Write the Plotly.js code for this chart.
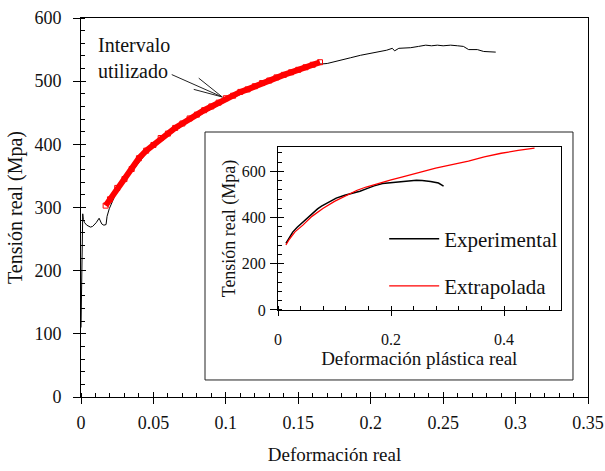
<!DOCTYPE html>
<html>
<head>
<meta charset="utf-8">
<script src="https://cdn.plot.ly/plotly-3.0.1.min.js"></script>
<style>html,body{margin:0;padding:0;background:#fff;}#chart{width:605px;height:471px;}</style>
</head>
<body>
<div id="chart"></div>
<script>
// Main chart: experimental curve (true strain vs true stress)
var mainStrain = [0, 0.0004, 0.0008, 0.0012, 0.0016, 0.0025, 0.004, 0.0065, 0.008, 0.0105, 0.0125, 0.0143, 0.0158, 0.0173, 0.018, 0.0195,
  0.025, 0.035, 0.045, 0.055, 0.065, 0.075, 0.085, 0.095, 0.105, 0.115, 0.125, 0.135, 0.145, 0.155, 0.165,
  0.170, 0.178, 0.186, 0.193, 0.200, 0.207, 0.211, 0.2149, 0.2165, 0.2194, 0.2276, 0.233, 0.238, 0.242, 0.246, 0.250, 0.2552, 0.260, 0.264, 0.2676, 0.2736, 0.278, 0.2863];
var mainStress = [110, 200, 285, 290, 281, 276, 272, 269, 270, 276, 283, 274, 272, 273, 286, 298,
  327, 357, 386, 406, 422, 437, 450, 462, 474, 484, 494, 503, 511, 519, 527,
  528, 533, 537, 541, 544, 547, 549, 552, 548, 552, 553, 555, 557, 556, 557, 556, 557, 556, 555, 550, 550, 547, 546];

// Interval used for the fit (red band)
var usedStrain = [0.017, 0.020, 0.025, 0.030, 0.035, 0.040, 0.045, 0.050, 0.055, 0.060, 0.065, 0.070, 0.075, 0.080, 0.085, 0.090, 0.095, 0.100,
  0.105, 0.110, 0.115, 0.120, 0.125, 0.130, 0.135, 0.140, 0.145, 0.150, 0.155, 0.160, 0.165];
var usedStress = [303, 313, 331, 345, 361, 378, 390, 399, 410, 417, 426, 433, 441, 447, 454, 460, 466, 473,
  477, 483, 487, 492, 497, 501, 506, 510, 514, 518, 522, 526, 530];

// Inset: true plastic strain vs true stress
var expPlastic = [0.014, 0.018, 0.022, 0.026, 0.034, 0.042, 0.05, 0.06, 0.07, 0.077, 0.09, 0.103, 0.118, 0.132, 0.145, 0.156, 0.17, 0.185, 0.2, 0.215, 0.232, 0.245, 0.255, 0.27, 0.284, 0.293];
var expStress = [288, 305, 322, 337, 358, 376, 395, 417, 437, 449, 467, 484, 496, 505, 514, 524, 537, 547, 551, 556, 560, 561, 560, 556, 549, 536];
var extPlastic = [0.014, 0.02, 0.03, 0.044, 0.06, 0.08, 0.10, 0.12, 0.14, 0.156, 0.18, 0.20, 0.219, 0.25, 0.279, 0.31, 0.337, 0.365, 0.395, 0.425, 0.454];
var extStress = [281, 306, 338, 367, 405, 440, 470, 495, 518, 532, 550, 563, 575, 595, 614, 630, 644, 662, 678, 690, 700];

var mainXTicks = [0, 0.05, 0.1, 0.15, 0.2, 0.25, 0.3, 0.35];
var mainXLabels = ['0', '0.05', '0.1', '0.15', '0.2', '0.25', '0.3', '0.35'];
var mainYTicks = [0, 100, 200, 300, 400, 500, 600];
var insetXTicks = [0, 0.2, 0.4];
var insetYTicks = [0, 200, 400, 600];

var FONT = 'Liberation Serif';
var INK = '#111';

var traces = [
  {x: mainStrain, y: mainStress, mode: 'lines', line: {color: '#000', width: 1}, showlegend: false, hoverinfo: 'skip'},
  {x: usedStrain, y: usedStress, mode: 'lines+markers', line: {color: '#ff0000', width: 6},
   marker: {symbol: 'square-open', size: 5, color: '#ff0000', line: {width: 1, color: '#ff2020'}}, showlegend: false},
  {x: [null], y: [null], xaxis: 'x3', yaxis: 'y', showlegend: false},
  {x: [null], y: [null], xaxis: 'x', yaxis: 'y3', showlegend: false},
  {x: expPlastic, y: expStress, xaxis: 'x2', yaxis: 'y2', mode: 'lines', name: 'Experimental',
   line: {color: '#000', width: 1.5}, legendgroup: 'a'},
  {x: extPlastic, y: extStress, xaxis: 'x2', yaxis: 'y2', mode: 'lines', name: 'Extrapolada',
   line: {color: '#ff0000', width: 1.3}, legendgroup: 'b'},
  {x: [null], y: [null], xaxis: 'x4', yaxis: 'y2', showlegend: false},
  {x: [null], y: [null], xaxis: 'x2', yaxis: 'y4', showlegend: false}
];

var layout = {
  width: 605, height: 471,
  margin: {l: 81, r: 17, t: 18, b: 74},
  paper_bgcolor: '#fff', plot_bgcolor: '#fff',
  showlegend: true,
  xaxis: {
    range: [0, 0.35], tickvals: mainXTicks, ticktext: mainXLabels,
    showline: true, linecolor: '#000', linewidth: 1, mirror: true,
    ticks: 'outside', ticklen: 6, tickcolor: '#000', ticklabelstandoff: 3,
    minor: {dtick: 0.01, tick0: 0, ticks: 'inside', ticklen: 4, tickcolor: '#000', showgrid: false},
    showgrid: false, zeroline: false, tickfont: {family: FONT, size: 18, color: INK},
    title: {text: 'Deformación real', font: {family: FONT, size: 19, color: INK}, standoff: 16}
  },
  yaxis: {
    range: [0, 600], tickvals: mainYTicks,
    showline: true, linecolor: '#000', linewidth: 1, mirror: true,
    ticks: 'outside', ticklen: 7, tickcolor: '#000', ticklabelstandoff: 8,
    minor: {dtick: 20, tick0: 0, ticks: 'inside', ticklen: 4, tickcolor: '#000', showgrid: false},
    showgrid: false, zeroline: false, tickfont: {family: FONT, size: 18, color: INK},
    title: {text: 'Tensión real (Mpa)', font: {family: FONT, size: 20, color: INK}, standoff: 6}
  },
  xaxis3: {overlaying: 'x', anchor: 'y', range: [0, 0.35], tickvals: mainXTicks, ticks: 'inside', ticklen: 5,
    tickcolor: '#000', showticklabels: false, showline: false, showgrid: false, zeroline: false},
  yaxis3: {overlaying: 'y', anchor: 'x', range: [0, 600], tickvals: mainYTicks, ticks: 'inside', ticklen: 5,
    tickcolor: '#000', showticklabels: false, showline: false, showgrid: false, zeroline: false},
  xaxis2: {
    domain: [0.3886, 0.9458], anchor: 'y2', range: [0, 0.5], tickvals: insetXTicks,
    showline: true, linecolor: '#000', linewidth: 1, mirror: true,
    ticks: 'outside', ticklen: 5, tickcolor: '#000', ticklabelstandoff: 10,
    minor: {dtick: 0.04, tick0: 0, ticks: 'inside', ticklen: 4, tickcolor: '#000', showgrid: false},
    showgrid: false, zeroline: false, tickfont: {family: FONT, size: 16, color: INK},
    title: {text: 'Deformación plástica real', font: {family: FONT, size: 19, color: INK}, standoff: 3}
  },
  yaxis2: {
    domain: [0.2296, 0.6596], anchor: 'x2', range: [0, 705], tickvals: insetYTicks,
    showline: true, linecolor: '#000', linewidth: 1, mirror: true,
    ticks: 'outside', ticklen: 7, tickcolor: '#000', ticklabelstandoff: 1,
    minor: {dtick: 40, tick0: 0, ticks: 'inside', ticklen: 4, tickcolor: '#000', showgrid: false},
    showgrid: false, zeroline: false, tickfont: {family: FONT, size: 16, color: INK},
    title: {text: 'Tensión real (Mpa)', font: {family: FONT, size: 18, color: INK}, standoff: 1}
  },
  xaxis4: {overlaying: 'x2', anchor: 'y2', range: [0, 0.5], tickvals: insetXTicks, ticks: 'inside', ticklen: 4,
    tickcolor: '#000', showticklabels: false, showline: false, showgrid: false, zeroline: false},
  yaxis4: {overlaying: 'y2', anchor: 'x2', range: [0, 705], tickvals: insetYTicks, ticks: 'inside', ticklen: 6,
    tickcolor: '#000', showticklabels: false, showline: false, showgrid: false, zeroline: false},
  shapes: [
    {type: 'rect', xref: 'paper', yref: 'paper', x0: 0.2446, x1: 0.9704, y0: 0.0449, y1: 0.6992,
     line: {color: '#222', width: 1}, fillcolor: '#fff', layer: 'below'}
  ],
  legend: {
    x: 0.598, xanchor: 'left', y: 0.471, yanchor: 'top',
    font: {family: FONT, size: 21, color: INK}, bgcolor: 'rgba(0,0,0,0)', borderwidth: 0,
    tracegroupgap: 17, itemwidth: 50
  },
  annotations: [
    {x: 0.0975, y: 475, xref: 'x', yref: 'y', ax: -88, ay: -39, text: 'Intervalo<br>utilizado', align: 'left',
     showarrow: true, arrowhead: 0, arrowwidth: 1, arrowcolor: '#222', font: {family: FONT, size: 20, color: INK}},
    {x: 0.0975, y: 475, xref: 'x', yref: 'y', ax: -25, ay: -20, text: ' ', showarrow: true, arrowhead: 0,
     arrowwidth: 1, arrowcolor: '#222', font: {size: 1}},
    {x: 0.0975, y: 475, xref: 'x', yref: 'y', ax: -30, ay: -8, text: ' ', showarrow: true, arrowhead: 0,
     arrowwidth: 1, arrowcolor: '#222', font: {size: 1}}
  ]
};

Plotly.newPlot('chart', traces, layout, {displayModeBar: false, staticPlot: true});
</script>
</body>
</html>
